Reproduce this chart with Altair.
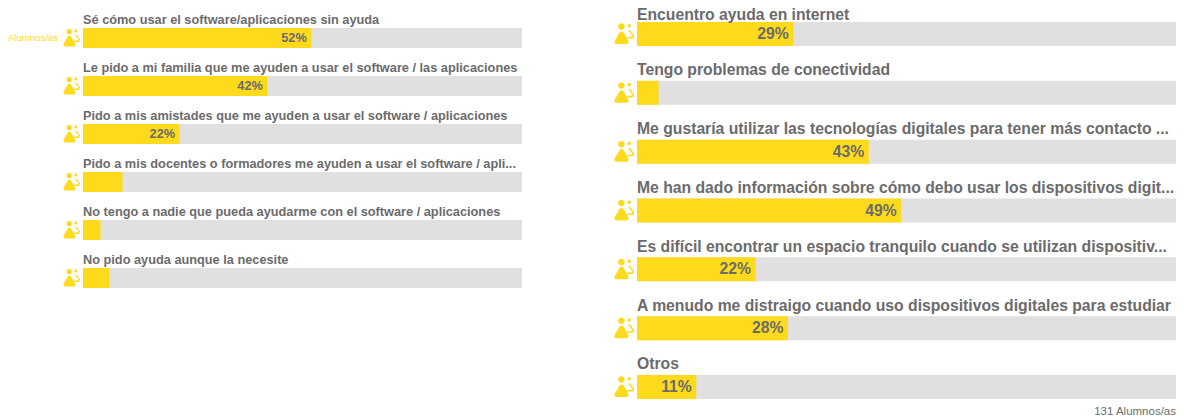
import altair as alt
import pandas as pd

left_labels = [
    "Sé cómo usar el software/aplicaciones sin ayuda",
    "Le pido a mi familia que me ayuden a usar el software / las aplicaciones",
    "Pido a mis amistades que me ayuden a usar el software / aplicaciones",
    "Pido a mis docentes o formadores me ayuden a usar el software / apli...",
    "No tengo a nadie que pueda ayudarme con el software / aplicaciones",
    "No pido ayuda aunque la necesite",
]
left_values = [52, 42, 22, 9, 4, 6]
left_shown = [True, True, True, False, False, False]

right_labels = [
    "Encuentro ayuda en internet",
    "Tengo problemas de conectividad",
    "Me gustaría utilizar las tecnologías digitales para tener más contacto ...",
    "Me han dado información sobre cómo debo usar los dispositivos digit...",
    "Es difícil encontrar un espacio tranquilo cuando se utilizan dispositiv...",
    "A menudo me distraigo cuando uso dispositivos digitales para estudiar",
    "Otros",
]
right_values = [29, 4, 43, 49, 22, 28, 11]
right_shown = [True, False, True, True, True, True, True]

series_name = "Alumnos/as"
footer = "131 Alumnos/as"

YELLOW = "#FDDB1C"
GREY = "#E0E0E0"
TEXT = "#6B6B6B"
FONT = "Liberation Sans"

ICON = (
    "M-0.59 -0.74 A0.33 0.33 0 1 0 0.07 -0.74 A0.33 0.33 0 1 0 -0.59 -0.74 Z "
    "M-0.24 -0.26 C-0.12 -0.26 -0.04 -0.18 0.02 -0.06 L0.42 0.66 "
    "C0.52 0.86 0.42 1 0.22 1 L-0.72 1 C-0.92 1 -1.02 0.86 -0.92 0.66 "
    "L-0.5 -0.06 C-0.44 -0.18 -0.36 -0.26 -0.24 -0.26 Z "
    "M0.36 -0.82 A0.17 0.17 0 1 0 0.7 -0.82 A0.17 0.17 0 1 0 0.36 -0.82 Z "
    "M0.46 -0.38 L0.6 -0.38 L0.98 0.14 C1.06 0.3 0.96 0.46 0.78 0.46 "
    "L0.3 0.46 L0.3 0.3 L0.76 0.3 C0.84 0.3 0.86 0.22 0.82 0.16 L0.46 -0.3 Z"
)


def panel(labels, values, shown, x_range, y_range, inner, font, label_dy, icon_size, icon_off, pct_off, first_dy=None):
    df = pd.DataFrame({"label": labels, "value": values, "shown": shown})
    df["full"] = 100
    df["pct"] = df["value"].astype(str) + "%"
    df["row"] = range(len(df))
    xs = alt.Scale(domain=[0, 100], range=x_range)
    x = alt.X("value:Q", axis=None, scale=xs)
    y = alt.Y("label:N", axis=None, sort=None,
              scale=alt.Scale(type="band", domain=labels, range=y_range, paddingInner=inner, paddingOuter=0))
    base = alt.Chart(df)
    track = base.mark_bar(color=GREY, cornerRadius=0).encode(
        x=alt.X("full:Q", axis=None, scale=xs), x2=alt.X2(datum=0), y=y)
    bar = base.mark_bar(color=YELLOW, cornerRadius=0).encode(x=x, x2=alt.X2(datum=0), y=y)
    pct = base.transform_filter("datum.shown").mark_text(
        align="right", baseline="middle", font=FONT, fontWeight="bold", fontSize=font,
        color=TEXT, dx=pct_off).encode(x=x, y=y, text="pct:N")

    def title(source, dy):
        return source.mark_text(
            align="left", baseline="middle", font=FONT, fontWeight="bold", fontSize=font,
            color=TEXT, dy=dy).encode(
            x=alt.X(datum=0, axis=None, scale=xs), y=y, text="label:N")

    if first_dy is None:
        titles = [title(base, label_dy)]
    else:
        titles = [title(base.transform_filter("datum.row > 0"), label_dy),
                  title(base.transform_filter("datum.row == 0"), first_dy)]
    icon = base.mark_point(
        shape=ICON, filled=True, color=YELLOW, opacity=1, size=icon_size, strokeWidth=0,
        xOffset=icon_off).encode(
        x=alt.X(datum=0, axis=None, scale=xs), y=y)
    return [track, bar, pct, *titles, icon], y, xs


left_layers, left_y, left_x = panel(left_labels, left_values, left_shown, [75, 514], [20, 280], 28 / 48,
                                    12.75, -18.5, 290, -11.5, -4.5)
right_layers, right_y, right_x = panel(right_labels, right_values, right_shown, [629, 1168], [14, 391], 34.83 / 58.83,
                                       15.72, -22.5, 400, -13, -4.5, first_dy=-18.7)

series = alt.Chart(pd.DataFrame({"label": [left_labels[0]], "name": [series_name]})).mark_text(
    align="right", baseline="middle", font=FONT, fontSize=9.6, color=YELLOW, dx=-25).encode(
    x=alt.X(datum=0, axis=None, scale=left_x),
    y=left_y, text="name:N")

foot = alt.Chart(pd.DataFrame({"t": [footer]})).mark_text(
    align="right", baseline="middle", font=FONT, fontSize=11.5, color=TEXT).encode(
    x=alt.value(1168), y=alt.value(404), text="t:N")

chart = alt.layer(*left_layers, series, *right_layers, foot).resolve_scale(x="independent", y="independent").properties(
    width=1168, height=410, padding=0, autosize=alt.AutoSizeParams(type="none"),
).configure_view(stroke=None)

chart.save("out.html", embed_options={"renderer": "svg", "actions": False})
